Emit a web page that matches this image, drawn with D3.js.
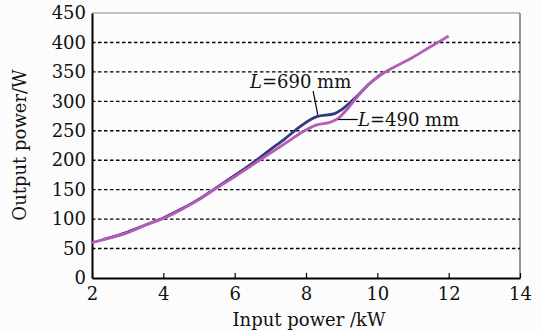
<!DOCTYPE html>
<html>
<head>
<meta charset="utf-8">
<script src="https://cdn.jsdelivr.net/npm/d3@7"></script>
<style>
  body { margin: 0; background: #fcfcfc; }
  svg text { font-family: "DejaVu Serif", serif; fill: #111; }
</style>
</head>
<body>
<svg id="chart" width="542" height="330"></svg>
<script>
// input power (kW) / output power (W)
const x490 = [2, 2.5, 3, 3.5, 4, 4.5, 5, 5.5, 6, 6.5, 7, 7.5, 7.9, 8.3, 8.7, 8.9, 9.2, 9.5, 9.8, 10.2, 10.6, 11, 11.5, 12];
const y490 = [60, 68, 77, 90, 101, 116, 133, 153, 172, 192, 212, 232, 248, 260, 265, 271, 290, 312, 331, 349, 362, 375, 393, 411];
const x690 = [2.3, 3, 3.5, 4, 4.5, 5, 5.5, 6, 6.5, 7, 7.4, 7.9, 8.3, 8.8, 9.0, 9.4, 9.8, 10.1];
const y690 = [65, 78, 90, 102, 117, 134, 154, 174, 195, 218, 236, 260, 274, 279, 286, 307, 331, 346];
const xTicks = [2, 4, 6, 8, 10, 12, 14];
const yTicks = [0, 50, 100, 150, 200, 250, 300, 350, 400, 450];

const svg = d3.select("#chart");
const pl = 92, pr = 520, pt = 13, pb = 278;

const x = d3.scaleLinear().domain([2, 14]).range([pl, pr]);
const y = d3.scaleLinear().domain([0, 450]).range([pb, pt]);

// frame (top/right)
svg.append("line").attr("x1", pl).attr("x2", pr).attr("y1", pt).attr("y2", pt)
  .attr("stroke", "#888").attr("stroke-width", 1);
svg.append("line").attr("x1", pr).attr("x2", pr).attr("y1", pt).attr("y2", pb)
  .attr("stroke", "#333").attr("stroke-width", 1);

// dashed grid
svg.append("g").selectAll("line")
  .data(yTicks.filter(d => d > 0 && d < 450))
  .enter().append("line")
  .attr("x1", pl).attr("x2", pr)
  .attr("y1", d => y(d)).attr("y2", d => y(d))
  .attr("stroke", "#000").attr("stroke-width", 1.4)
  .attr("stroke-dasharray", "3.5,2.5");

// x axis
const gx = svg.append("g")
  .attr("transform", "translate(0," + pb + ")")
  .call(d3.axisBottom(x).tickValues(xTicks).tickSizeInner(-5).tickSizeOuter(0).tickPadding(9));
gx.select(".domain").attr("stroke", "#000").attr("stroke-width", 2);
gx.selectAll(".tick line").attr("stroke", "#000").attr("stroke-width", 1.2);
gx.selectAll("text").attr("font-size", 18).attr("dy", "0.71em");

// y axis
const gy = svg.append("g")
  .attr("transform", "translate(" + pl + ",0)")
  .call(d3.axisLeft(y).tickValues(yTicks).tickSize(0).tickPadding(6));
gy.select(".domain").attr("stroke", "#000").attr("stroke-width", 2);
gy.selectAll("text").attr("font-size", 18);

// titles
svg.append("text").attr("x", 309).attr("y", 326).attr("text-anchor", "middle")
  .attr("font-size", 18).text("Input power /kW");
svg.append("text").attr("transform", "translate(26,145) rotate(-90)")
  .attr("text-anchor", "middle").attr("font-size", 18).text("Output power/W");

// curves
const line = d3.line().curve(d3.curveMonotoneX);
const pts690 = x690.map((v, i) => [x(v), y(y690[i])]);
const pts490 = x490.map((v, i) => [x(v), y(y490[i])]);

svg.append("path").attr("d", line(pts690))
  .attr("fill", "none").attr("stroke", "#2f3a7c").attr("stroke-width", 2.8);
svg.append("path").attr("d", line(pts490))
  .attr("fill", "none").attr("stroke", "#b45cb8").attr("stroke-width", 2.8);

// annotations
svg.append("line").attr("x1", x(8.2)).attr("y1", 91).attr("x2", x(8.33)).attr("y2", y(274) - 2)
  .attr("stroke", "#000").attr("stroke-width", 1.2);
svg.append("line").attr("x1", x(8.9)).attr("y1", 119.5).attr("x2", x(9.45)).attr("y2", 119.5)
  .attr("stroke", "#000").attr("stroke-width", 1.2);

const lab1 = svg.append("text").attr("x", 250).attr("y", 88).attr("font-size", 18);
lab1.append("tspan").attr("font-style", "italic").text("L");
lab1.append("tspan").text("=690 mm");
const lab2 = svg.append("text").attr("x", 358).attr("y", 126).attr("font-size", 18);
lab2.append("tspan").attr("font-style", "italic").text("L");
lab2.append("tspan").text("=490 mm");
</script>
</body>
</html>
